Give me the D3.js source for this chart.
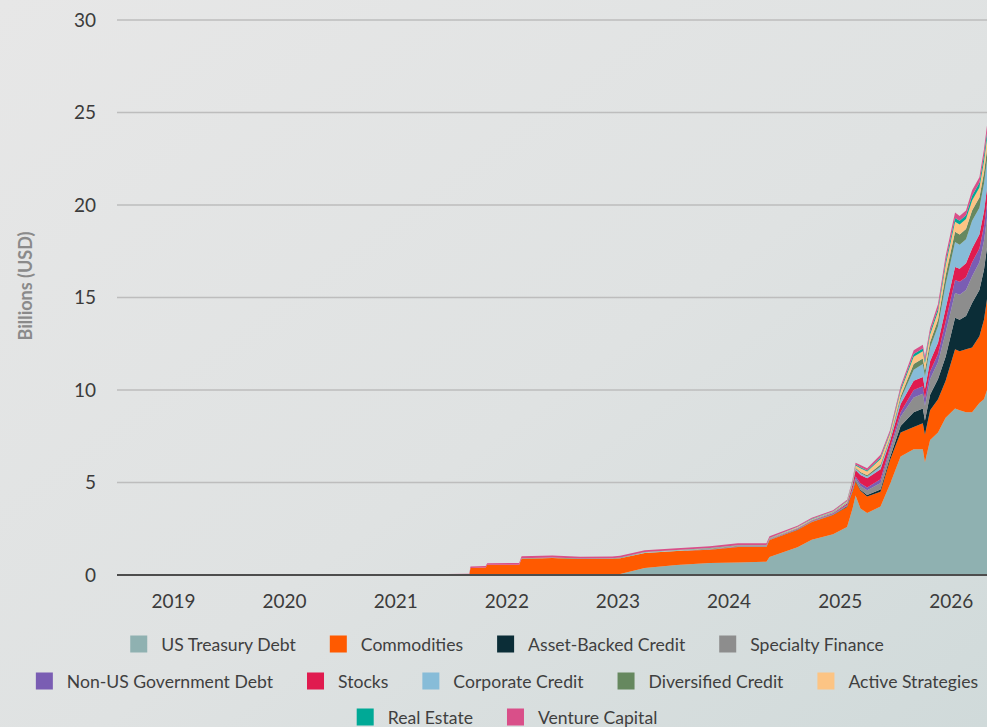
<!DOCTYPE html>
<html>
<head>
<meta charset="utf-8">
<script src="https://cdn.jsdelivr.net/npm/d3@7"></script>
<style>
  html, body { margin: 0; padding: 0; }
  body { width: 987px; height: 727px; overflow: hidden; }
  svg { display: block; font-family: Lato, "Open Sans", sans-serif; }
</style>
</head>
<body>
<svg width="987" height="727"></svg>
<script>
// series names in stacking order (bottom to top)
var seriesNames = ['US Treasury Debt', 'Commodities', 'Asset-Backed Credit', 'Specialty Finance',
  'Non-US Government Debt', 'Stocks', 'Corporate Credit', 'Diversified Credit',
  'Active Strategies', 'Real Estate', 'Venture Capital']
var seriesColors = ['#8fb1b1', '#ff5a00', '#0b2d37', '#8d8d8d', '#7a5db3', '#e01b4f',
  '#87bcd8', '#66885f', '#fcc484', '#00a996', '#d94f89']

var dates = ['2018-07-01', '2021-06-01', '2021-06-20', '2021-09-01', '2021-09-05', '2021-10-25',
  '2021-10-30', '2022-02-12', '2022-02-20', '2022-06-01', '2022-09-01', '2022-12-15',
  '2023-01-10', '2023-04-01', '2023-07-15', '2023-11-01', '2024-02-01', '2024-05-05',
  '2024-05-15', '2024-08-15', '2024-10-01', '2024-12-10', '2025-01-25', '2025-02-12',
  '2025-02-22', '2025-03-10', '2025-04-01', '2025-05-15', '2025-06-15', '2025-07-20',
  '2025-09-01', '2025-10-01', '2025-10-08', '2025-10-25', '2025-11-20', '2025-12-15',
  '2026-01-15', '2026-01-30', '2026-02-20', '2026-03-12', '2026-04-05', '2026-04-20',
  '2026-04-30']

// values in billions USD, one per date
var usTreasury = [0, 0, 0, 0, 0, 0, 0, 0, 0, 0, 0, 0,
  0.05, 0.38, 0.54, 0.65, 0.68, 0.72, 0.97, 1.5, 1.9, 2.2, 2.6, 3.6,
  4.3, 3.6, 3.35, 3.7, 4.9, 6.4, 6.8, 6.8, 6.1, 7.3, 7.7, 8.5,
  9.0, 8.9, 8.8, 8.8, 9.3, 9.5, 10.0]
var commodities = [0, 0, 0, 0, 0.38, 0.4, 0.55, 0.56, 0.88, 0.92, 0.86, 0.88,
  0.86, 0.81, 0.76, 0.72, 0.83, 0.79, 0.92, 0.93, 0.96, 1.04, 1.08, 0.9,
  0.75, 0.95, 0.9, 0.8, 1.3, 1.3, 1.2, 1.4, 1.5, 1.6, 1.8, 2.0,
  3.2, 3.2, 3.4, 3.5, 3.6, 4.3, 4.9]
var assetBacked = [0, 0, 0, 0, 0, 0, 0, 0, 0, 0, 0, 0,
  0, 0, 0, 0, 0, 0, 0, 0.01, 0.01, 0.02, 0.03, 0.04,
  0.05, 0.06, 0.08, 0.12, 0.15, 0.35, 0.8, 0.8, 0.75, 0.85, 1.1, 1.3,
  1.7, 1.7, 1.8, 2.4, 2.5, 2.7, 2.8]
var specialtyFinance = [0, 0, 0, 0, 0, 0, 0, 0, 0, 0, 0, 0,
  0, 0, 0, 0.01, 0.01, 0.01, 0.02, 0.03, 0.03, 0.03, 0.05, 0.08,
  0.12, 0.2, 0.25, 0.35, 0.35, 0.5, 0.8, 0.8, 0.8, 0.85, 0.9, 1.3,
  1.35, 1.35, 1.4, 1.45, 1.5, 1.55, 1.6]
var nonUsGov = [0, 0, 0, 0, 0, 0, 0, 0, 0, 0, 0, 0,
  0, 0, 0, 0, 0.01, 0.01, 0.01, 0.02, 0.02, 0.03, 0.04, 0.06,
  0.1, 0.15, 0.15, 0.2, 0.18, 0.25, 0.4, 0.4, 0.4, 0.4, 0.45, 0.6,
  0.7, 0.7, 0.7, 0.75, 0.75, 0.8, 0.8]
var stocks = [0, 0, 0, 0, 0, 0, 0, 0, 0, 0, 0, 0,
  0, 0, 0, 0.01, 0.01, 0.01, 0.01, 0.02, 0.02, 0.03, 0.06, 0.2,
  0.35, 0.45, 0.5, 0.55, 0.35, 0.45, 0.5, 0.5, 0.5, 0.55, 0.6, 0.7,
  0.7, 0.7, 0.75, 0.75, 0.75, 0.8, 0.8]
var corporateCredit = [0, 0, 0, 0, 0, 0, 0, 0, 0.01, 0.01, 0.01, 0.01,
  0.01, 0.02, 0.02, 0.02, 0.02, 0.02, 0.02, 0.03, 0.03, 0.03, 0.04, 0.06,
  0.08, 0.1, 0.1, 0.15, 0.12, 0.25, 0.6, 0.7, 0.7, 0.75, 0.9, 1.3,
  1.35, 1.3, 1.3, 1.5, 1.45, 1.5, 1.5]
var diversifiedCredit = [0, 0, 0, 0, 0, 0, 0, 0, 0.01, 0.01, 0.01, 0.01,
  0.01, 0.01, 0.01, 0.02, 0.02, 0.02, 0.02, 0.02, 0.02, 0.02, 0.03, 0.04,
  0.05, 0.06, 0.06, 0.1, 0.08, 0.15, 0.3, 0.3, 0.3, 0.3, 0.35, 0.5,
  0.55, 0.55, 0.55, 0.55, 0.55, 0.6, 0.6]
var activeStrategies = [0, 0, 0, 0, 0, 0, 0, 0, 0, 0, 0, 0,
  0, 0.01, 0.01, 0.02, 0.02, 0.02, 0.02, 0.03, 0.03, 0.03, 0.05, 0.08,
  0.12, 0.2, 0.2, 0.3, 0.2, 0.3, 0.4, 0.4, 0.4, 0.4, 0.45, 0.55,
  0.55, 0.55, 0.55, 0.55, 0.55, 0.6, 0.6]
var realEstate = [0, 0, 0, 0, 0, 0, 0, 0, 0.01, 0.01, 0.01, 0.01,
  0.01, 0.01, 0.01, 0.01, 0.01, 0.01, 0.01, 0.02, 0.02, 0.02, 0.03, 0.04,
  0.05, 0.06, 0.06, 0.08, 0.07, 0.1, 0.15, 0.15, 0.15, 0.15, 0.15, 0.2,
  0.2, 0.2, 0.2, 0.25, 0.25, 0.3, 0.3]
var ventureCapital = [0, 0, 0.06, 0.07, 0.08, 0.08, 0.09, 0.09, 0.1, 0.1, 0.09, 0.09,
  0.1, 0.1, 0.1, 0.1, 0.1, 0.1, 0.1, 0.05, 0.05, 0.05, 0.06, 0.08,
  0.1, 0.12, 0.12, 0.15, 0.12, 0.15, 0.2, 0.2, 0.2, 0.2, 0.25, 0.3,
  0.3, 0.25, 0.25, 0.3, 0.3, 0.35, 0.4]

var yTicks = [0, 5, 10, 15, 20, 25, 30]
var yearLabels = ['2019', '2020', '2021', '2022', '2023', '2024', '2025', '2026']

var seriesValues = [usTreasury, commodities, assetBacked, specialtyFinance, nonUsGov, stocks,
  corporateCredit, diversifiedCredit, activeStrategies, realEstate, ventureCapital]

var parseDate = d3.timeParse('%Y-%m-%d')
var rows = dates.map(function (d, i) {
  var row = { date: parseDate(d) }
  seriesNames.forEach(function (name, s) { row[name] = seriesValues[s][i] })
  return row
})

var W = 987
var H = 727
var margin = { left: 117, right: 0, top: 20, bottom: 152 }

var svg = d3.select('svg')

// background gradient
var defs = svg.append('defs')
var grad = defs.append('linearGradient').attr('id', 'bg')
  .attr('x1', '0').attr('y1', '0').attr('x2', '1').attr('y2', '1')
grad.append('stop').attr('offset', '0%').attr('stop-color', '#e7e7e7')
grad.append('stop').attr('offset', '55%').attr('stop-color', '#dfe2e2')
grad.append('stop').attr('offset', '100%').attr('stop-color', '#d0dada')
svg.append('rect').attr('width', W).attr('height', H).attr('fill', 'url(#bg)')

var x = d3.scaleTime()
  .domain([parseDate('2018-07-01'), parseDate('2026-04-30')])
  .range([margin.left, W - margin.right])
var y = d3.scaleLinear()
  .domain([0, 30])
  .range([H - margin.bottom, margin.top])

// gridlines
svg.append('g').attr('class', 'grid')
  .selectAll('line')
  .data(yTicks.filter(function (t) { return t > 0 }))
  .join('line')
  .attr('x1', margin.left).attr('x2', W - margin.right)
  .attr('y1', function (d) { return y(d) }).attr('y2', function (d) { return y(d) })
  .attr('stroke', '#bdbdbd').attr('stroke-width', 1.5)

// stacked areas
var stack = d3.stack().keys(seriesNames)
var layers = stack(rows)
var area = d3.area()
  .x(function (d) { return x(d.data.date) })
  .y0(function (d) { return y(d[0]) })
  .y1(function (d) { return y(d[1]) })

svg.append('g').attr('class', 'areas')
  .selectAll('path')
  .data(layers)
  .join('path')
  .attr('d', area)
  .attr('fill', function (d, i) { return seriesColors[i] })

// zero line
svg.append('line')
  .attr('x1', margin.left).attr('x2', W - margin.right)
  .attr('y1', y(0)).attr('y2', y(0))
  .attr('stroke', '#4d4d4d').attr('stroke-width', 2)

// y axis
var yAxis = d3.axisLeft(y).tickValues(yTicks).tickSize(0).tickPadding(0)
var yg = svg.append('g').attr('transform', 'translate(96,0)').call(yAxis)
yg.select('.domain').remove()
yg.selectAll('text')
  .attr('font-family', 'Lato, sans-serif')
  .attr('font-size', 19)
  .attr('fill', '#3b3b3b')

svg.append('text')
  .attr('transform', 'translate(32,286) rotate(-90)')
  .attr('text-anchor', 'middle')
  .attr('font-size', 18)
  .attr('font-weight', 700)
  .attr('fill', '#8a8a8a')
  .text('Billions (USD)')

// x axis: year labels at start of each year
var xAxis = d3.axisBottom(x)
  .tickValues(yearLabels.map(function (yr) { return parseDate(yr + '-01-01') }))
  .tickFormat(d3.timeFormat('%Y'))
  .tickSize(0).tickPadding(0)
var xg = svg.append('g').attr('transform', 'translate(0,' + (y(0) + 33) + ')').call(xAxis)
xg.select('.domain').remove()
xg.selectAll('text')
  .attr('dy', 0)
  .attr('font-family', 'Lato, sans-serif')
  .attr('font-size', 19)
  .attr('fill', '#3b3b3b')

// legend
var legendRows = [[0, 1, 2, 3], [4, 5, 6, 7, 8], [9, 10]]
var legendY = [645, 682, 718]
var legendCenter = 507
var box = 17
var boxGap = 14
var itemGap = 34

legendRows.forEach(function (items, r) {
  var g = svg.append('g').attr('class', 'legend-row')
  var cursor = 0
  items.forEach(function (idx) {
    var item = g.append('g').attr('transform', 'translate(' + cursor + ',0)')
    item.append('rect')
      .attr('x', 0).attr('y', -box / 2 - 1)
      .attr('width', box).attr('height', box)
      .attr('fill', seriesColors[idx])
    var t = item.append('text')
      .attr('x', box + boxGap).attr('y', 0)
      .attr('dy', '0.35em')
      .attr('font-size', 17.6)
      .attr('fill', '#3f3f3f')
      .text(seriesNames[idx])
    cursor += box + boxGap + t.node().getComputedTextLength() + itemGap
  })
  var total = cursor - itemGap
  g.attr('transform', 'translate(' + (legendCenter - total / 2) + ',' + legendY[r] + ')')
})
</script>
</body>
</html>
